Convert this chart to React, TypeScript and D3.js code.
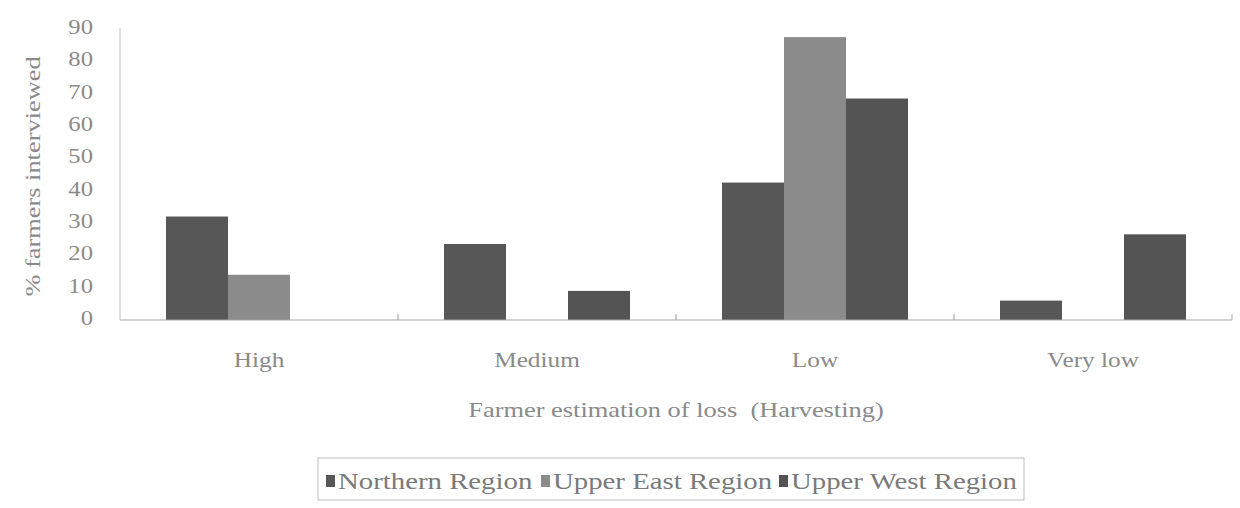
import React from 'react';
import * as d3 from 'd3';

const categories = ['High', 'Medium', 'Low', 'Very low'];
const seriesNames = ['Northern Region', 'Upper East Region', 'Upper West Region'];
const northern = [32, 23.5, 42.5, 6];
const upperEast = [14, 0, 87.5, 0];
const upperWest = [0, 9, 68.5, 26.5];
const yTicks = [0, 10, 20, 30, 40, 50, 60, 70, 80, 90];

const colors = ['#575757', '#8b8b8b', '#545454'];
const font = '"Liberation Serif", "DejaVu Serif", serif';
const textColor = '#8a8a8a';

// the scanned figure has its text stretched sideways, so text gets a horizontal scale
function SText({ x, y, sx = 1, rotate = 0, anchor = 'start', size, fill = textColor, children }: any) {
  return (
    <text
      transform={`translate(${x},${y}) rotate(${rotate}) scale(${sx},1)`}
      textAnchor={anchor}
      fontSize={size}
      fill={fill}
      style={{ whiteSpace: 'pre' }}
    >
      {children}
    </text>
  );
}

export default function App() {
  const values = [northern, upperEast, upperWest];

  const x0 = d3.scaleBand<string>().domain(categories).range([120, 1232]);
  const x1 = d3.scaleBand<string>().domain(seriesNames).range([46, x0.bandwidth() - 46]);
  const y = d3.scaleLinear().domain([0, 90]).range([320, 29]);

  // legend layout
  const legendItems = [
    { sx: 326, tx: 338 },
    { sx: 541, tx: 553 },
    { sx: 779, tx: 791 },
  ];

  return (
    <svg
      width={1240}
      height={508}
      style={{ position: 'absolute', left: 0, top: 0, background: '#fff' }}
      fontFamily={font}
    >
      {/* bars */}
      {categories.map((c, i) => (
        <g key={c} transform={`translate(${x0(c)},0)`}>
          {seriesNames.map((s, j) => {
            const v = values[j][i];
            if (!v) return null;
            return (
              <rect
                key={s}
                x={x1(s)}
                y={y(v)}
                width={x1.bandwidth()}
                height={y(0) - y(v)}
                fill={colors[j]}
              />
            );
          })}
        </g>
      ))}

      {/* axes */}
      <line x1={120} x2={120} y1={y(90) - 1} y2={y(0)} stroke="#c0c0c0" strokeWidth={1} />
      <line x1={120} x2={1232} y1={y(0)} y2={y(0)} stroke="#a5a5a5" strokeWidth={1.2} />
      {categories.slice(1).map((c) => (
        <line key={c} x1={x0(c)} x2={x0(c)} y1={y(0)} y2={y(0) - 6} stroke="#999" strokeWidth={1} />
      ))}
      <line x1={1232} x2={1232} y1={y(0)} y2={y(0) - 6} stroke="#aaa" strokeWidth={1} />

      {/* y tick labels */}
      {yTicks.map((t) => (
        <SText key={t} x={93} y={y(t) + 5} sx={1.12} anchor="end" size={22}>
          {t}
        </SText>
      ))}

      {/* y title */}
      <SText x={40} y={(y(0) + y(90)) / 2 + 2} rotate={-90} sx={1.2} anchor="middle" size={22}>
        % farmers interviewed
      </SText>

      {/* x labels */}
      {categories.map((c) => (
        <SText
          key={c}
          x={(x0(c) as number) + x0.bandwidth() / 2}
          y={367}
          sx={1.15}
          anchor="middle"
          size={22}
        >
          {c}
        </SText>
      ))}

      {/* x title */}
      <SText x={676} y={417} sx={1.2} anchor="middle" size={22}>
        {'Farmer estimation of loss  (Harvesting)'}
      </SText>

      {/* legend */}
      <rect x={318} y={458} width={706} height={42} fill="none" stroke="#bdbdbd" strokeWidth={1} />
      {seriesNames.map((s, j) => (
        <g key={s}>
          <rect x={legendItems[j].sx} y={475} width={9} height={12} fill={colors[j]} />
          <SText x={legendItems[j].tx} y={489} sx={1.2} size={24} fill="#7a7a7a">
            {s}
          </SText>
        </g>
      ))}
    </svg>
  );
}
